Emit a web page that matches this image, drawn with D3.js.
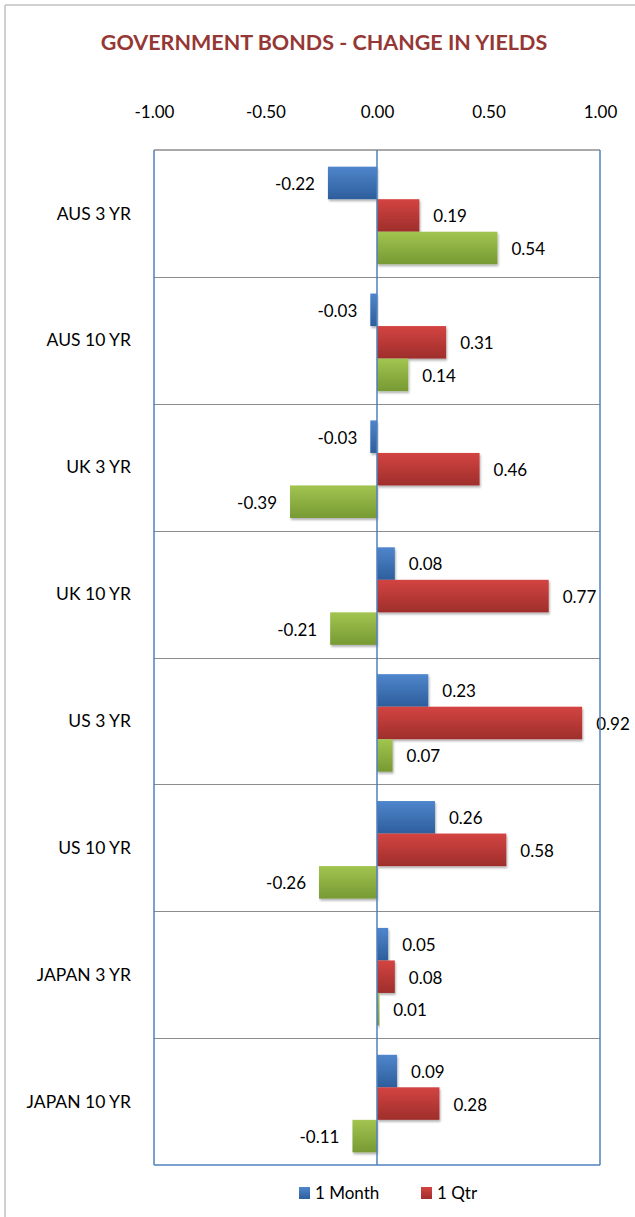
<!DOCTYPE html>
<html><head><meta charset="utf-8">
<script src="https://cdn.jsdelivr.net/npm/d3@7"></script>
<style>body{margin:0;background:#fff;}svg{display:block;}</style>
</head><body>
<svg id="c" width="635" height="1217"></svg>
<script>
const categories = ["AUS 3 YR","AUS 10 YR","UK 3 YR","UK 10 YR","US 3 YR","US 10 YR","JAPAN 3 YR","JAPAN 10 YR"];
const seriesNames = ["1 Month","1 Qtr","1 Year"];
const month = [-0.22,-0.03,-0.03,0.08,0.23,0.26,0.05,0.09];
const qtr = [0.19,0.31,0.46,0.77,0.92,0.58,0.08,0.28];
const year = [0.54,0.14,-0.39,-0.21,0.07,-0.26,0.01,-0.11];
const ticks = [-1,-0.5,0,0.5,1];
const legendNames = ["1 Month","1 Qtr"];

const svg = d3.select("#c");
const font = "Lato, 'Open Sans', sans-serif";
const fmt = v => d3.format(".2f")(v).replace("\u2212","-");
const L=154, R=600, T=150, B=1165;
const x = d3.scaleLinear().domain([-1,1]).range([L,R]);
const y = d3.scaleBand().domain(categories).range([T,B]);
const inner = d3.scaleBand().domain(seriesNames).range([3,y.bandwidth()+1]).paddingOuter(0.42).paddingInner(0);

const cols = [["#4f86cc","#2d5e9c"],["#d34442","#9e2e2b"],["#a2c450","#779a33"]];
const defs = svg.append("defs");
cols.forEach((c,i)=>{
  const g = defs.append("linearGradient").attr("id","g"+i).attr("x1",0).attr("y1",0).attr("x2",0).attr("y2",1);
  g.append("stop").attr("offset","0%").attr("stop-color",c[0]);
  g.append("stop").attr("offset","100%").attr("stop-color",c[1]);
});
const f = defs.append("filter").attr("id","sh").attr("x","-10%").attr("y","-10%").attr("width","130%").attr("height","140%");
f.append("feDropShadow").attr("dx",1).attr("dy",2).attr("stdDeviation",1.2).attr("flood-color","#000").attr("flood-opacity",0.3);

svg.append("line").attr("x1",5).attr("x2",635).attr("y1",5).attr("y2",5).attr("stroke","#d0d0d0").attr("stroke-width",2);
svg.append("line").attr("x1",5).attr("x2",5).attr("y1",5).attr("y2",1217).attr("stroke","#d0d0d0").attr("stroke-width",2);

svg.append("text").attr("x",324).attr("y",50).attr("text-anchor","middle")
  .attr("font-family",font).attr("font-weight","bold").attr("font-size",21.5).attr("fill","#953735")
  .text("GOVERNMENT BONDS - CHANGE IN YIELDS");

const ax = svg.append("g").attr("transform",`translate(0,${T-29})`)
  .call(d3.axisTop(x).tickValues(ticks).tickFormat(fmt).tickSize(0));
ax.select(".domain").remove();
ax.selectAll("text").attr("font-family",font).attr("font-size",17).attr("fill","#000").attr("dy",0);

svg.append("g").selectAll("line").data(categories.slice(1)).join("line")
  .attr("x1",L).attr("x2",R).attr("y1",d=>Math.round(y(d))+0.5).attr("y2",d=>Math.round(y(d))+0.5)
  .attr("stroke","#8c8c8c").attr("stroke-width",1.2);
svg.append("line").attr("x1",L).attr("x2",R).attr("y1",T).attr("y2",T).attr("stroke","#8c8c8c").attr("stroke-width",1.5);

const data = [month,qtr,year];
data.forEach((vals,si)=>{
  const g = svg.append("g");
  g.selectAll("rect").data(vals).join("rect")
    .attr("x",d=>Math.min(x(0),x(d)))
    .attr("width",d=>Math.abs(x(d)-x(0)))
    .attr("y",(d,i)=>y(categories[i])+inner(seriesNames[si]))
    .attr("height",inner.bandwidth())
    .attr("fill",`url(#g${si})`).attr("filter","url(#sh)");
  g.selectAll("text").data(vals).join("text")
    .attr("x",d=>d<0? x(d)-13 : x(d)+14)
    .attr("y",(d,i)=>y(categories[i])+inner(seriesNames[si])+inner.bandwidth()/2+1)
    .attr("dy","0.35em")
    .attr("text-anchor",d=>d<0?"end":"start")
    .attr("font-family",font).attr("font-size",17).attr("fill","#000")
    .text(d=>fmt(d));
});

const bl = "#4f81bd";
svg.append("line").attr("x1",L).attr("x2",L).attr("y1",T).attr("y2",B).attr("stroke",bl).attr("stroke-width",1.5);
svg.append("line").attr("x1",R).attr("x2",R).attr("y1",T).attr("y2",B).attr("stroke",bl).attr("stroke-width",1.5);
svg.append("line").attr("x1",L).attr("x2",R).attr("y1",B).attr("y2",B).attr("stroke",bl).attr("stroke-width",1.5);
svg.append("line").attr("x1",x(0)).attr("x2",x(0)).attr("y1",T).attr("y2",B).attr("stroke",bl).attr("stroke-width",1.5);

svg.append("g").selectAll("text").data(categories).join("text")
  .attr("x",131).attr("y",d=>y(d)+y.bandwidth()/2).attr("dy","0.35em").attr("text-anchor","end")
  .attr("font-family",font).attr("font-size",17.5).attr("fill","#000").text(d=>d);

const lg = svg.append("g");
const lx = [299,421];
legendNames.forEach((n,i)=>{
  lg.append("rect").attr("x",lx[i]).attr("y",1187).attr("width",11).attr("height",12).attr("fill",`url(#g${i})`);
  lg.append("text").attr("x",lx[i]+16).attr("y",1193).attr("dy","0.35em")
    .attr("font-family",font).attr("font-size",17).attr("fill","#000").text(n);
});
</script>
</body></html>
